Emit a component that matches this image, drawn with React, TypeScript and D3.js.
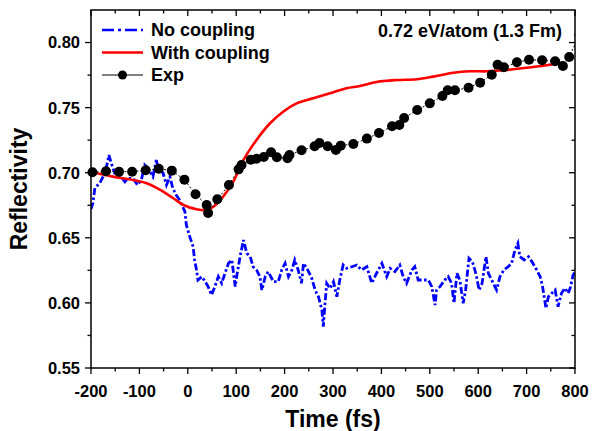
import React, { useEffect, useRef } from "react";
import * as d3 from "d3";

// axis ticks
const timeTicks = [-200, -100, 0, 100, 200, 300, 400, 500, 600, 700, 800];
const timeMinor = [-150, -50, 50, 150, 250, 350, 450, 550, 650, 750];
const reflTicks = [0.55, 0.6, 0.65, 0.7, 0.75, 0.8];
const reflMinor = [0.575, 0.625, 0.675, 0.725, 0.775];

// No coupling (noisy simulation)
const noCouplingTime = [
  -200, -196, -192, -182, -175, -168, -163, -158, -151, -141, -130, -124, -113, -104, -96, -89, -82, -72, -65, -62,
  -51, -44, -37, -31, -24, -17, -6, -3, 4, 11, 14, 18, 21, 29, 36, 42, 49, 56, 63, 70,
  77, 84, 91, 98, 101, 108, 115, 122, 129, 135, 142, 149, 153, 160, 166, 177, 187, 194, 201, 208,
  215, 221, 228, 235, 239, 246, 256, 263, 270, 277, 280, 283, 287, 294, 301, 308, 314, 321, 328, 339,
  349, 359, 370, 380, 390, 401, 411, 418, 428, 438, 445, 452, 463, 469, 476, 487, 497, 504, 511, 514,
  521, 531, 538, 545, 550, 556, 562, 569, 574, 581, 588, 595, 602, 608, 616, 621, 628, 638, 645, 653,
  662, 669, 676, 682, 686, 695, 704, 713, 721, 728, 733, 740, 745, 752, 759, 765, 772, 779, 786, 791,
  796, 800,
];
const noCouplingRefl = [
  0.672, 0.6768, 0.6883, 0.6919, 0.697, 0.7046, 0.7136, 0.7073, 0.6996, 0.6983, 0.6931, 0.6957, 0.6957, 0.6906, 0.6944, 0.706, 0.7034, 0.697, 0.7098, 0.7046,
  0.6996, 0.6906, 0.697, 0.6881, 0.6829, 0.6791, 0.6701, 0.6599, 0.6509, 0.6432, 0.633, 0.6253, 0.6176, 0.6202, 0.6163, 0.6125, 0.6061, 0.6125, 0.6202, 0.6151,
  0.6228, 0.6304, 0.633, 0.6125, 0.6202, 0.6355, 0.6483, 0.6381, 0.6355, 0.6278, 0.6253, 0.6202, 0.6099, 0.6202, 0.624, 0.6163, 0.6163, 0.6253, 0.6304, 0.6202,
  0.6253, 0.633, 0.6253, 0.6151, 0.6304, 0.6266, 0.619, 0.6099, 0.6048, 0.5946, 0.5818, 0.5971, 0.615, 0.611, 0.6163, 0.6048, 0.6176, 0.6291, 0.6266, 0.6278,
  0.6291, 0.6253, 0.6278, 0.6151, 0.6228, 0.6304, 0.6202, 0.6266, 0.624, 0.6291, 0.6202, 0.6151, 0.6253, 0.6278, 0.6176, 0.6176, 0.6176, 0.6125, 0.5984, 0.6099,
  0.6125, 0.6176, 0.6202, 0.6151, 0.5997, 0.6228, 0.6176, 0.5997, 0.6099, 0.6343, 0.6317, 0.6228, 0.6099, 0.6151, 0.6355, 0.6228, 0.6176, 0.6099, 0.6202, 0.6253,
  0.6278, 0.6304, 0.6407, 0.6458, 0.6355, 0.633, 0.6355, 0.6304, 0.6253, 0.6202, 0.6125, 0.5959, 0.6048, 0.6074, 0.6099, 0.5971, 0.6074, 0.6113, 0.6074, 0.6125,
  0.6215, 0.624,
];

// With coupling (smooth simulation)
const withCouplingTime = [
  -200, -155, -113, -85, -57, -30, -9, 18, 39, 53, 73, 94, 115, 142, 170, 197, 225, 259, 294, 328,
  356, 390, 432, 473, 507, 549, 583, 618, 659, 700, 735, 755,
];
const withCouplingRefl = [
  0.7006, 0.697, 0.6944, 0.6919, 0.6868, 0.6804, 0.6752, 0.6719, 0.6714, 0.6739, 0.6816, 0.6931, 0.7098, 0.7252, 0.738, 0.7469, 0.7533, 0.7572, 0.761, 0.7649,
  0.7666, 0.7697, 0.7712, 0.7718, 0.7738, 0.7768, 0.7779, 0.7779, 0.7789, 0.7807, 0.7822, 0.7833,
];

// Experiment
const expTime = [
  -197, -169, -142, -115, -87, -60, -33, -7, 16, 39, 42, 61, 85, 105, 111, 130, 142, 157, 172, 184,
  206, 210, 235, 262, 272, 289, 306, 316, 342, 370, 395, 422, 437, 447, 474, 500, 526, 537, 552, 580,
  604, 628, 640, 653, 680, 705, 732, 759, 775, 788, 809,
];
const expRefl = [
  0.7003, 0.7011, 0.7008, 0.7008, 0.7019, 0.7031, 0.7016, 0.6947, 0.6834, 0.6752, 0.6691, 0.6796, 0.6906, 0.7026, 0.706, 0.71, 0.7108, 0.7121, 0.7157, 0.7119,
  0.7111, 0.7136, 0.7172, 0.7203, 0.7229, 0.7203, 0.7175, 0.7208, 0.7221, 0.7262, 0.7305, 0.7357, 0.7367, 0.7421, 0.7482, 0.7533, 0.7589, 0.7633, 0.7633, 0.7653,
  0.7692, 0.7753, 0.783, 0.781, 0.7848, 0.7868, 0.7864, 0.7856, 0.782, 0.7889, 0.806,
];

const legendLabels = ["No coupling", "With coupling", "Exp"];
const annotation = "0.72 eV/atom (1.3 Fm)";

const App = () => {
  const ref = useRef<SVGSVGElement>(null);

  useEffect(() => {
    const svg = d3.select(ref.current);
    svg.selectAll("*").remove();

    const W = 593;
    const H = 431;
    const left = 91;
    const right = 575;
    const top = 10;
    const bottom = 368;
    const font = "'Liberation Sans', Arial, sans-serif";

    const x = d3.scaleLinear().domain([-200, 800]).range([left, right]);
    const y = d3.scaleLinear().domain([0.55, 0.825]).range([bottom, top]);

    svg.append("rect").attr("width", W).attr("height", H).attr("fill", "white");

    const defs = svg.append("defs");
    defs.append("clipPath").attr("id", "plotClip")
      .append("rect").attr("x", left).attr("y", top).attr("width", right - left).attr("height", bottom - top);
    defs.append("clipPath").attr("id", "markClip")
      .append("rect").attr("x", 0).attr("y", 0).attr("width", right).attr("height", H);

    const zip = (a: number[], b: number[]) => a.map((t, i) => [t, b[i]] as [number, number]);

    const plot = svg.append("g").attr("clip-path", "url(#plotClip)");

    // No coupling
    plot.append("path")
      .datum(zip(noCouplingTime, noCouplingRefl))
      .attr("fill", "none")
      .attr("stroke", "#0000ff")
      .attr("stroke-width", 2.8)
      .attr("stroke-dasharray", "7,2.5,2.5,2.5")
      .attr("d", d3.line<[number, number]>().x((d) => x(d[0])).y((d) => y(d[1])));

    // With coupling
    plot.append("path")
      .datum(zip(withCouplingTime, withCouplingRefl))
      .attr("fill", "none")
      .attr("stroke", "#ff0000")
      .attr("stroke-width", 2.6)
      .attr("d", d3.line<[number, number]>().x((d) => x(d[0])).y((d) => y(d[1])).curve(d3.curveCatmullRom));

    // Exp
    const expData = zip(expTime, expRefl);
    plot.append("path")
      .datum(expData)
      .attr("fill", "none")
      .attr("stroke", "#000")
      .attr("stroke-width", 1)
      .attr("stroke-dasharray", "2,2")
      .attr("d", d3.line<[number, number]>().x((d) => x(d[0])).y((d) => y(d[1])));

    svg.append("g").attr("clip-path", "url(#markClip)")
      .selectAll("circle")
      .data(expData)
      .enter()
      .append("circle")
      .attr("cx", (d) => x(d[0]))
      .attr("cy", (d) => y(d[1]))
      .attr("r", 5)
      .attr("fill", "#000");

    // frame
    svg.append("rect")
      .attr("x", left).attr("y", top)
      .attr("width", right - left).attr("height", bottom - top)
      .attr("fill", "none").attr("stroke", "#000").attr("stroke-width", 1.5);

    const ticks = svg.append("g").attr("stroke", "#000").attr("stroke-width", 1.3);
    timeTicks.forEach((t) => {
      ticks.append("line").attr("x1", x(t)).attr("x2", x(t)).attr("y1", bottom).attr("y2", bottom + 6);
      ticks.append("line").attr("x1", x(t)).attr("x2", x(t)).attr("y1", top).attr("y2", top + 6);
    });
    timeMinor.forEach((t) => {
      ticks.append("line").attr("x1", x(t)).attr("x2", x(t)).attr("y1", bottom).attr("y2", bottom + 3.5);
      ticks.append("line").attr("x1", x(t)).attr("x2", x(t)).attr("y1", top).attr("y2", top + 3.5);
    });
    reflTicks.forEach((r) => {
      ticks.append("line").attr("x1", left - 6).attr("x2", left).attr("y1", y(r)).attr("y2", y(r));
      ticks.append("line").attr("x1", right - 6).attr("x2", right).attr("y1", y(r)).attr("y2", y(r));
    });
    reflMinor.forEach((r) => {
      ticks.append("line").attr("x1", left - 3.5).attr("x2", left).attr("y1", y(r)).attr("y2", y(r));
      ticks.append("line").attr("x1", right - 3.5).attr("x2", right).attr("y1", y(r)).attr("y2", y(r));
    });

    // tick labels
    svg.append("g")
      .selectAll("text")
      .data(timeTicks)
      .enter()
      .append("text")
      .attr("x", (d) => x(d))
      .attr("y", bottom + 29)
      .attr("text-anchor", "middle")
      .attr("font-family", font)
      .attr("font-weight", "bold")
      .attr("font-size", 16.5)
      .text((d) => d);

    svg.append("g")
      .selectAll("text")
      .data(reflTicks)
      .enter()
      .append("text")
      .attr("x", left - 11)
      .attr("y", (d) => y(d))
      .attr("dy", "0.36em")
      .attr("text-anchor", "end")
      .attr("font-family", font)
      .attr("font-weight", "bold")
      .attr("font-size", 16.5)
      .text((d) => d3.format(".2f")(d));

    // axis titles
    svg.append("text")
      .attr("x", (left + right) / 2)
      .attr("y", 427)
      .attr("text-anchor", "middle")
      .attr("font-family", font)
      .attr("font-weight", "bold")
      .attr("font-size", 23)
      .text("Time (fs)");

    svg.append("text")
      .attr("transform", `translate(27, ${(top + bottom) / 2}) rotate(-90)`)
      .attr("text-anchor", "middle")
      .attr("font-family", font)
      .attr("font-weight", "bold")
      .attr("font-size", 23)
      .text("Reflectivity");

    // annotation
    svg.append("text")
      .attr("x", 562)
      .attr("y", 37)
      .attr("text-anchor", "end")
      .attr("font-family", font)
      .attr("font-weight", "bold")
      .attr("font-size", 18)
      .text(annotation);

    // legend
    const lg = svg.append("g");
    const rowY = [30, 52.5, 75];
    lg.append("line").attr("x1", 102).attr("x2", 143).attr("y1", rowY[0]).attr("y2", rowY[0])
      .attr("stroke", "#0000ff").attr("stroke-width", 2.6).attr("stroke-dasharray", "12,4,3,4");
    lg.append("line").attr("x1", 102).attr("x2", 143).attr("y1", rowY[1]).attr("y2", rowY[1])
      .attr("stroke", "#ff0000").attr("stroke-width", 2.6);
    lg.append("line").attr("x1", 102).attr("x2", 143).attr("y1", rowY[2]).attr("y2", rowY[2])
      .attr("stroke", "#000").attr("stroke-width", 1);
    lg.append("circle").attr("cx", 122.5).attr("cy", rowY[2]).attr("r", 4.5).attr("fill", "#000");
    legendLabels.forEach((label, i) => {
      lg.append("text")
        .attr("x", 151)
        .attr("y", rowY[i])
        .attr("dy", "0.36em")
        .attr("font-family", font)
        .attr("font-weight", "bold")
        .attr("font-size", 18)
        .text(label);
    });
  }, []);

  return (
    <svg
      ref={ref}
      width={593}
      height={431}
      style={{ position: "absolute", left: 0, top: 0, display: "block" }}
    />
  );
};

export default App;
